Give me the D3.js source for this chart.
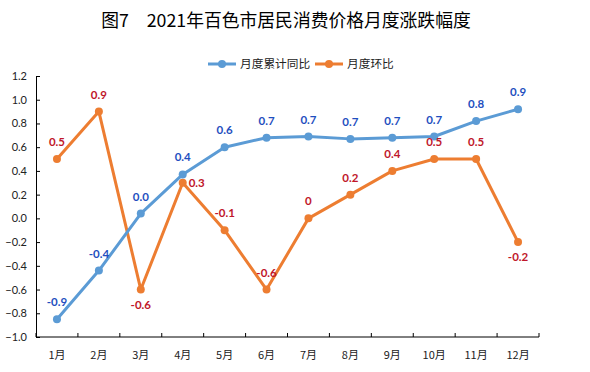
<!DOCTYPE html>
<html>
<head>
<meta charset="utf-8">
<script src="https://cdnjs.cloudflare.com/ajax/libs/d3/7.8.5/d3.min.js"></script>
<style>
body { margin: 0; background: #fff; }
svg { display: block; }
</style>
</head>
<body>
<div id="chart"></div>
<script>
// data
var months = ["1月","2月","3月","4月","5月","6月","7月","8月","9月","10月","11月","12月"];
var cumValues = [-0.85, -0.44, 0.04, 0.37, 0.60, 0.68, 0.69, 0.67, 0.68, 0.69, 0.82, 0.92];
var cumLabels = ["-0.9","-0.4","0.0","0.4","0.6","0.7","0.7","0.7","0.7","0.7","0.8","0.9"];
var momValues = [0.5, 0.9, -0.6, 0.3, -0.1, -0.6, 0.0, 0.2, 0.4, 0.5, 0.5, -0.2];
var momLabels = ["0.5","0.9","-0.6","0.3","-0.1","-0.6","0","0.2","0.4","0.5","0.5","-0.2"];
// where the orange labels sit relative to the point
var momPos = ["top","top","bottom","right","top","top","top","top","top","top","top","bottom"];
var yTicks = [-1.0,-0.8,-0.6,-0.4,-0.2,0.0,0.2,0.4,0.6,0.8,1.0,1.2];

var width = 590, height = 372;
var blue = "#5b9bd5", orange = "#ed7d31";
var numFont = "Lato, 'Open Sans', sans-serif";
var cjkFont = "'Noto Sans CJK SC', sans-serif";

var svg = d3.select("#chart").append("svg")
  .attr("width", width).attr("height", height);

var x = d3.scaleBand().domain(months).range([36, 539]);
var y = d3.scaleLinear().domain([-1.0, 1.2]).range([337, 76]);

// title
svg.append("text")
  .attr("x", 286).attr("y", 27)
  .attr("text-anchor", "middle")
  .style("font-family", cjkFont).style("font-size", "17.8px").style("fill", "#000")
  .text("图7　2021年百色市居民消费价格月度涨跌幅度");

// y axis
var yAxis = d3.axisLeft(y).tickValues(yTicks).tickSize(-4).tickPadding(9)
  .tickFormat(d3.format(".1f"));
var gy = svg.append("g").attr("transform", "translate(36,0)").call(yAxis);
gy.select(".domain").attr("stroke", "#000");
gy.selectAll(".tick line").attr("stroke", "#000");
gy.selectAll("text").style("font-family", numFont).style("font-size", "11px").style("fill", "#222");

// x axis: ticks between months, pointing up
var gx = svg.append("g").attr("transform", "translate(0,337)");
gx.append("line").attr("x1", 36).attr("x2", 539).attr("stroke", "#000");
gx.selectAll(".t").data(months.concat(["end"])).enter().append("line")
  .attr("x1", function(d, i){ return i < months.length ? x(d) : x.range()[1]; })
  .attr("x2", function(d, i){ return i < months.length ? x(d) : x.range()[1]; })
  .attr("y1", 0).attr("y2", -4).attr("stroke", "#000");
gx.selectAll(".lab").data(months).enter().append("text")
  .attr("x", function(d){ return x(d) + x.bandwidth() / 2; })
  .attr("y", 22)
  .attr("text-anchor", "middle")
  .style("font-family", cjkFont).style("font-size", "11px").style("fill", "#222")
  .text(function(d){ return d; });

function cx(i){ return x(months[i]) + x.bandwidth() / 2; }

var line = d3.line()
  .x(function(d, i){ return cx(i); })
  .y(function(d){ return y(d); });

function drawSeries(vals, color){
  svg.append("path").datum(vals)
    .attr("d", line).attr("fill", "none")
    .attr("stroke", color).attr("stroke-width", 3).attr("stroke-linejoin", "round");
  svg.selectAll(null).data(vals).enter().append("circle")
    .attr("cx", function(d, i){ return cx(i); })
    .attr("cy", function(d){ return y(d); })
    .attr("r", 4).attr("fill", color);
}
drawSeries(momValues, orange);
drawSeries(cumValues, blue);

// data labels
svg.selectAll(null).data(cumValues).enter().append("text")
  .attr("x", function(d, i){ return cx(i); })
  .attr("y", function(d){ return y(d) - 13; })
  .attr("text-anchor", "middle")
  .style("font-family", numFont).style("font-size", "11.5px").style("font-weight", "bold")
  .style("fill", "#1f4fc0")
  .text(function(d, i){ return cumLabels[i]; });

svg.selectAll(null).data(momValues).enter().append("text")
  .attr("x", function(d, i){ return momPos[i] == "right" ? cx(i) + 6 : cx(i); })
  .attr("y", function(d, i){
    if (momPos[i] == "bottom") return y(d) + 19;
    if (momPos[i] == "right") return y(d) + 4;
    return y(d) - 13;
  })
  .attr("text-anchor", function(d, i){ return momPos[i] == "right" ? "start" : "middle"; })
  .style("font-family", numFont).style("font-size", "11.5px").style("font-weight", "bold")
  .style("fill", "#c0172a")
  .text(function(d, i){ return momLabels[i]; });

// legend
var legend = svg.append("g").attr("transform", "translate(0,64)");
var items = [{name: "月度累计同比", color: blue, x: 208}, {name: "月度环比", color: orange, x: 315}];
items.forEach(function(it){
  legend.append("line").attr("x1", it.x).attr("x2", it.x + 28)
    .attr("stroke", it.color).attr("stroke-width", 3);
  legend.append("circle").attr("cx", it.x + 14).attr("r", 4).attr("fill", it.color);
  legend.append("text").attr("x", it.x + 32).attr("y", 4)
    .style("font-family", cjkFont).style("font-size", "11.7px").style("fill", "#222")
    .text(it.name);
});
</script>
</body>
</html>
